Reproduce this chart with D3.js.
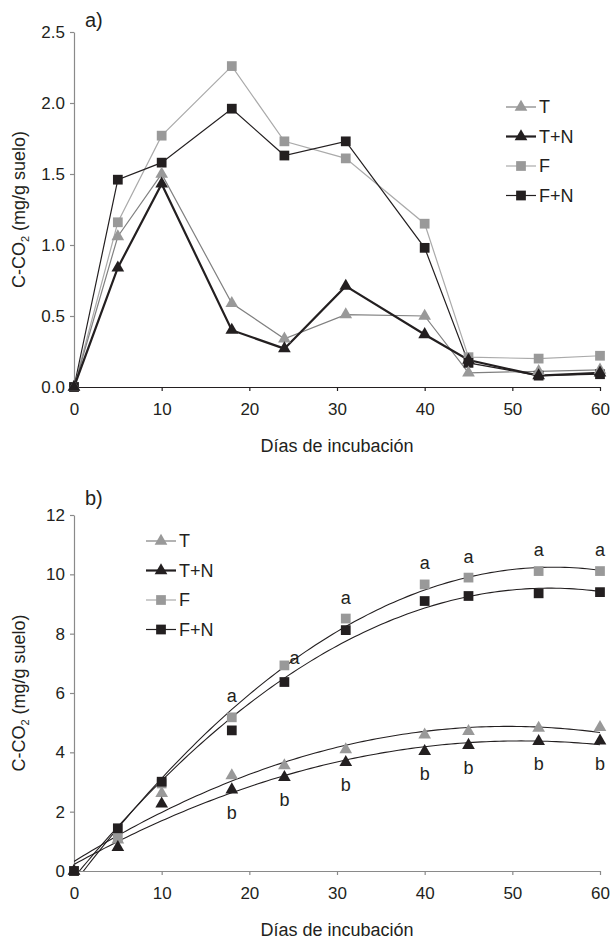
<!DOCTYPE html>
<meta charset="utf-8">
<style>
body { margin: 0; background: #fff; }
svg { font-family: "Liberation Sans", Arial, sans-serif; }
.tick text { font-size: 17px; fill: #231f20; }
.lbl { font-size: 18px; fill: #231f20; }
</style>
<body>
<div id="chart"></div>
<script src="https://d3js.org/d3.v7.min.js"></script>
<script>

// days of incubation
var days = [0, 5, 10, 18, 24, 31, 40, 45, 53, 60];

// a) daily C-CO2 (mg/g suelo)
var rateT  = [0, 1.06, 1.50, 0.59, 0.34, 0.51, 0.50, 0.10, 0.11, 0.12];
var rateTN = [0, 0.84, 1.43, 0.40, 0.27, 0.71, 0.37, 0.19, 0.08, 0.10];
var rateF  = [0, 1.16, 1.77, 2.26, 1.73, 1.61, 1.15, 0.21, 0.20, 0.22];
var rateFN = [0, 1.46, 1.58, 1.96, 1.63, 1.73, 0.98, 0.17, 0.08, 0.09];

// b) cumulative C-CO2 (mg/g suelo)
var cumT  = [0, 1.05, 2.62, 3.22, 3.55, 4.09, 4.59, 4.71, 4.82, 4.84];
var cumTN = [0, 0.80, 2.26, 2.74, 3.16, 3.66, 4.03, 4.24, 4.37, 4.39];
var cumF  = [0, 1.13, 2.95, 5.18, 6.93, 8.51, 9.66, 9.89, 10.11, 10.11];
var cumFN = [0, 1.44, 3.01, 4.74, 6.37, 8.12, 9.10, 9.27, 9.36, 9.40];

// significance letters (over F, under T+N)
var lettersTop = ["", "", "", "a", "a", "a", "a", "a", "a", "a"];
var lettersBottom = ["", "", "", "b", "b", "b", "b", "b", "b", "b"];

var seriesNames = ["T", "T+N", "F", "F+N"];
var xTicks = [0, 10, 20, 30, 40, 50, 60];
var yTicksA = [0, 0.5, 1.0, 1.5, 2.0, 2.5];
var yTicksB = [0, 2, 4, 6, 8, 10, 12];

var black = "#231f20", gray = "#999999";
var styles = {
  "T":   {fill: gray,  line: "#808080", width: 1.2, shape: d3.symbolTriangle, size: 70},
  "T+N": {fill: black, line: black,     width: 2.2, shape: d3.symbolTriangle, size: 70},
  "F":   {fill: gray,  line: "#aaaaaa", width: 1.2, shape: d3.symbolSquare,   size: 95},
  "F+N": {fill: black, line: black,     width: 1.2, shape: d3.symbolSquare,   size: 95}
};

var svg = d3.select("#chart").append("svg")
    .attr("width", 613)
    .attr("height", 939);

var x = d3.scaleLinear().domain([0, 60]).range([74, 600]);
var yA = d3.scaleLinear().domain([0, 2.5]).range([387, 32]);
var yB = d3.scaleLinear().domain([0, 12]).range([871, 515]);

svg.append("defs").append("clipPath")
    .attr("id", "clipB")
  .append("rect")
    .attr("x", x.range()[0])
    .attr("y", yB.range()[1])
    .attr("width", x.range()[1] - x.range()[0] + 2)
    .attr("height", yB.range()[0] - yB.range()[1]);

function drawAxes(y, ticks, fmt, yColor, xColor) {
  var gx = svg.append("g")
      .attr("transform", "translate(0," + y.range()[0] + ")")
      .call(d3.axisBottom(x).tickValues(xTicks).tickSize(4).tickSizeOuter(0).tickPadding(12));
  gx.selectAll("path, line").attr("stroke", xColor).attr("stroke-width", 1.2);
  var gy = svg.append("g")
      .attr("transform", "translate(" + x.range()[0] + ",0)")
      .call(d3.axisLeft(y).tickValues(ticks).tickFormat(fmt).tickSize(4).tickSizeOuter(0).tickPadding(5));
  gy.selectAll("path, line").attr("stroke", yColor).attr("stroke-width", 1.2);
  svg.selectAll(".tick text").attr("font-family", null).attr("font-size", null);

  svg.append("text").attr("class", "lbl")
      .attr("x", (x.range()[0] + x.range()[1]) / 2)
      .attr("y", y.range()[0] + 65)
      .attr("text-anchor", "middle")
      .text("Días de incubación");

  var t = svg.append("text").attr("class", "lbl")
      .attr("transform", "translate(25," + (y.range()[0] + y.range()[1]) / 2 + ") rotate(-90)")
      .attr("text-anchor", "middle");
  t.append("tspan").text("C-CO");
  t.append("tspan").attr("font-size", "11px").attr("dy", 4).text("2");
  t.append("tspan").attr("dy", -4).text(" (mg/g suelo)");
}

function legend(x0, y0) {
  seriesNames.forEach(function(n, i) {
    var s = styles[n], yy = y0 + i * 29.5;
    svg.append("line")
        .attr("x1", x0).attr("x2", x0 + 30).attr("y1", yy).attr("y2", yy)
        .attr("stroke", s.line).attr("stroke-width", s.width);
    svg.append("path")
        .attr("d", d3.symbol(s.shape, s.size)())
        .attr("transform", "translate(" + (x0 + 15) + "," + yy + ")")
        .attr("fill", s.fill);
    svg.append("text").attr("class", "lbl")
        .attr("x", x0 + 33).attr("y", yy + 6)
        .text(n);
  });
}

function markers(vals, n, y) {
  var s = styles[n];
  svg.append("g").selectAll("path")
      .data(days)
    .enter().append("path")
      .attr("d", d3.symbol(s.shape, s.size)())
      .attr("transform", function(d, i) { return "translate(" + x(d) + "," + y(vals[i]) + ")"; })
      .attr("fill", s.fill);
}

// ---------- a) ----------
drawAxes(yA, yTicksA, d3.format(".1f"), "#8a8a8a", black);

var seriesA = {"T": rateT, "T+N": rateTN, "F": rateF, "F+N": rateFN};
var lineA = d3.line()
    .x(function(d) { return x(d[0]); })
    .y(function(d) { return yA(d[1]); });

["F", "F+N", "T", "T+N"].forEach(function(n) {
  svg.append("path")
      .datum(d3.zip(days, seriesA[n]))
      .attr("d", lineA)
      .attr("fill", "none")
      .attr("stroke", styles[n].line)
      .attr("stroke-width", styles[n].width);
});
["F", "F+N", "T", "T+N"].forEach(function(n) { markers(seriesA[n], n, yA); });

legend(506, 107);
svg.append("text").attr("x", 85).attr("y", 27).attr("font-size", "20px").attr("fill", black).text("a)");

// ---------- b) ----------
drawAxes(yB, yTicksB, d3.format("d"), "#8a8a8a", "#8a8a8a");

var seriesB = {"T": cumT, "T+N": cumTN, "F": cumF, "F+N": cumFN};

// second order polynomial trend line (least squares)
function quadFit(xs, ys) {
  var S = [0, 0, 0, 0, 0], T = [0, 0, 0];
  xs.forEach(function(xv, i) {
    for (var k = 0; k < 5; k++) S[k] += Math.pow(xv, k);
    for (var k = 0; k < 3; k++) T[k] += ys[i] * Math.pow(xv, k);
  });
  var M = [[S[0], S[1], S[2]], [S[1], S[2], S[3]], [S[2], S[3], S[4]]];
  function det(m) {
    return m[0][0] * (m[1][1] * m[2][2] - m[1][2] * m[2][1])
         - m[0][1] * (m[1][0] * m[2][2] - m[1][2] * m[2][0])
         + m[0][2] * (m[1][0] * m[2][1] - m[1][1] * m[2][0]);
  }
  var D = det(M);
  return [0, 1, 2].map(function(c) {
    var m = M.map(function(row, r) { return row.map(function(v, j) { return j === c ? T[r] : v; }); });
    return det(m) / D;
  });
}

var fits = svg.append("g").attr("clip-path", "url(#clipB)");
["T", "T+N", "F", "F+N"].forEach(function(n) {
  var c = quadFit(days, seriesB[n]);
  var pts = d3.range(0, 60.25, 0.5).map(function(t) {
    return [x(t), yB(c[0] + c[1] * t + c[2] * t * t)];
  });
  fits.append("path")
      .attr("d", d3.line()(pts))
      .attr("fill", "none")
      .attr("stroke", black)
      .attr("stroke-width", 1.1);
});

["T", "F", "T+N", "F+N"].forEach(function(n) { markers(seriesB[n], n, yB); });

// letters
days.forEach(function(d, i) {
  if (lettersTop[i]) {
    // the 24 d letter sits to the right of its point
    var dx = d === 24 ? 10 : 0, dy = d === 24 ? -1 : -15;
    svg.append("text").attr("class", "lbl")
        .attr("x", x(d) + dx)
        .attr("y", yB(cumF[i]) + dy)
        .attr("text-anchor", "middle")
        .text(lettersTop[i]);
  }
  if (lettersBottom[i]) {
    svg.append("text").attr("class", "lbl")
        .attr("x", x(d))
        .attr("y", yB(cumTN[i]) + 29)
        .attr("text-anchor", "middle")
        .text(lettersBottom[i]);
  }
});

legend(146, 541);
svg.append("text").attr("x", 85).attr("y", 505).attr("font-size", "20px").attr("fill", black).text("b)");

</script>
</body>
